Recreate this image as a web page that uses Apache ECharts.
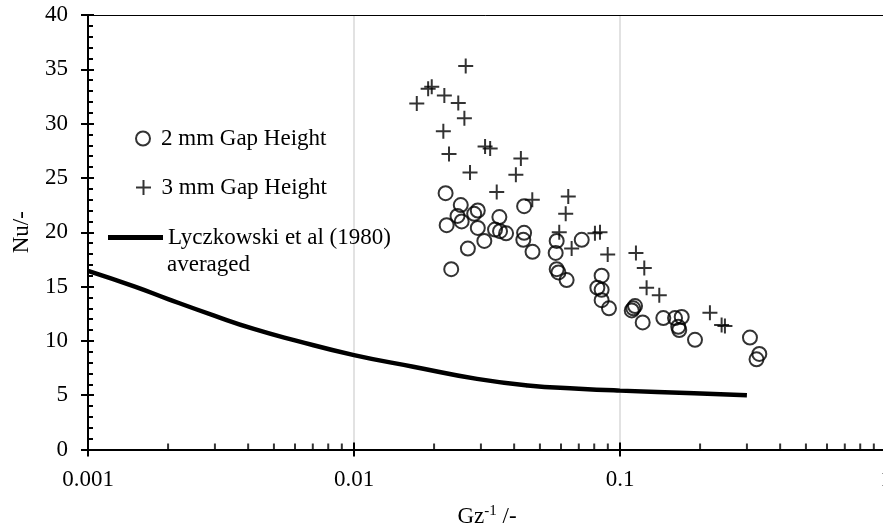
<!DOCTYPE html>
<html>
<head>
<meta charset="utf-8">
<script src="https://cdn.jsdelivr.net/npm/echarts@6/dist/echarts.min.js"></script>
<style>html,body{margin:0;padding:0;background:#fff}#c{width:883px;height:526px}</style>
</head>
<body>
<div id="c"></div>
<script>
// ---- data ----
var xTickLabels = ['0.001', '0.01', '0.1', '1'];
var xMinorTicks = [0.002,0.003,0.004,0.005,0.006,0.007,0.008,0.009,
                   0.02,0.03,0.04,0.05,0.06,0.07,0.08,0.09,
                   0.2,0.3,0.4,0.5,0.6,0.7,0.8,0.9];
var gap2mm = [[0.0221,23.6],[0.0252,22.5],[0.0292,22.0],[0.0436,22.4],[0.0283,21.7],[0.0245,21.5],
  [0.0254,21.0],[0.0352,21.4],[0.0223,20.65],[0.0292,20.4],[0.0339,20.25],[0.0354,20.1],[0.0373,19.9],
  [0.0436,19.95],[0.0433,19.3],[0.0309,19.2],[0.0469,18.2],[0.0268,18.5],[0.0232,16.6],[0.0578,19.2],
  [0.0573,18.1],[0.0578,16.6],[0.0587,16.3],[0.0630,15.6],[0.0718,19.3],[0.0853,16.0],[0.0822,14.9],
  [0.0853,14.7],[0.0853,13.75],[0.0909,13.0],[0.1107,12.8],[0.1139,13.2],[0.1122,13.0],[0.1217,11.7],
  [0.1455,12.1],[0.161,12.1],[0.1706,12.2],[0.1656,11.3],[0.167,11.0],[0.1914,10.1],[0.308,10.3],
  [0.334,8.8],[0.326,8.3]];
var gap3mm = [[0.0263,35.3],[0.0190,33.2],[0.0196,33.4],[0.01722,31.85],[0.02186,32.6],[0.02466,31.9],
  [0.0260,30.5],[0.02167,29.3],[0.02276,27.2],[0.0311,27.9],[0.0325,27.7],[0.0424,26.8],[0.0273,25.5],
  [0.0406,25.3],[0.0344,23.7],[0.0468,23.0],[0.0639,23.3],[0.0625,21.7],[0.0591,20.0],[0.0658,18.5],
  [0.0805,19.9],[0.0841,20.0],[0.0899,17.96],[0.1148,18.1],[0.1234,16.7],[0.1259,14.9],[0.1405,14.2],
  [0.2178,12.6],[0.241,11.45],[0.248,11.36]];
var lyczX = [0.001,0.0015,0.002,0.003,0.0042,0.006,0.01,0.0167,0.029,0.045,0.07,0.1,0.19,0.3];
var lyczY = [16.45,15.0,13.85,12.3,11.1,10.05,8.69,7.62,6.5,5.9,5.6,5.42,5.17,5.0];

var S2 = '2 mm Gap Height', S3 = '3 mm Gap Height', SL = 'Lyczkowski et al (1980)';
var FONT = 'Liberation Serif';
var plusPath = 'path://M0,10L20,10M10,0L10,20';

var chart = echarts.init(document.getElementById('c'));
var txt = {fontFamily: FONT, fontSize: 23, color: '#000'};
var logBase = {type: 'log', logBase: 10, min: 0.001, max: 1, gridIndex: 0};

chart.setOption({
  animation: false,
  backgroundColor: '#fff',
  grid: {left: 88, right: -3, top: 15, bottom: 76.5, containLabel: false, outerBoundsMode: 'none'},
  xAxis: [
    Object.assign({}, logBase, {
      position: 'bottom',
      axisLine: {show: true, onZero: false, lineStyle: {color: '#000', width: 2}},
      axisTick: {show: true, inside: true, length: 7, lineStyle: {color: '#000', width: 2}},
      axisLabel: Object.assign({margin: 19, formatter: function (v, i) { return xTickLabels[i]; }}, txt),
      splitLine: {show: true, lineStyle: {color: '#d9d9d9', width: 1.5}},
      name: '{a|Gz}{s|-1}{a| /-}',
      nameLocation: 'middle',
      nameGap: 54,
      nameTextStyle: {rich: {
        a: {fontFamily: FONT, fontSize: 23, color: '#000', lineHeight: 26},
        s: {fontFamily: FONT, fontSize: 15, color: '#000', verticalAlign: 'top', lineHeight: 18}
      }}
    }),
    Object.assign({}, logBase, {
      position: 'bottom',
      axisLine: {show: false, onZero: false},
      axisTick: {show: true, inside: false, length: 7, lineStyle: {color: '#000', width: 2}},
      axisLabel: {show: false},
      splitLine: {show: false}
    }),
    Object.assign({}, logBase, {
      position: 'top',
      axisLine: {show: true, onZero: false, lineStyle: {color: '#000', width: 1}},
      axisTick: {show: false},
      axisLabel: {show: false},
      splitLine: {show: false}
    })
  ],
  yAxis: [
    {
      type: 'value', min: 0, max: 40, interval: 5, position: 'left',
      axisLine: {show: true, onZero: false, lineStyle: {color: '#000', width: 2}},
      axisTick: {show: true, inside: true, length: 6, lineStyle: {color: '#000', width: 2}},
      minorTick: {show: true, splitNumber: 5, length: 5, lineStyle: {color: '#000', width: 2}},
      axisLabel: Object.assign({margin: 20}, txt),
      splitLine: {show: false},
      name: 'Nu/-', nameLocation: 'middle', nameGap: 55, nameRotate: 90,
      nameTextStyle: txt
    },
    {
      type: 'value', min: 0, max: 40, interval: 5, position: 'left',
      axisLine: {show: false, onZero: false},
      axisTick: {show: true, inside: false, length: 7, lineStyle: {color: '#000', width: 2}},
      axisLabel: {show: false},
      splitLine: {show: false}
    }
  ],
  legend: [
    {data: [S2], left: 135, top: 127, padding: 0, itemWidth: 26, itemHeight: 14, textStyle: txt, selectedMode: false},
    {data: [S3], left: 135, top: 176, padding: 0, itemWidth: 26, itemHeight: 15, textStyle: txt, selectedMode: false},
    {data: [{name: SL, icon: 'rect'}], left: 108, top: 226, padding: 0, itemWidth: 55, itemHeight: 5, textStyle: txt, selectedMode: false}
  ],
  graphic: [
    {type: 'text', left: 167, top: 253, style: {text: 'averaged', font: '23px "Liberation Serif"', fill: '#000'}}
  ],
  series: [
    {
      name: 'minorTicksX', type: 'scatter', xAxisIndex: 0, yAxisIndex: 0,
      data: xMinorTicks.map(function (v) { return [v, 0]; }),
      symbol: 'rect', symbolSize: [2, 6], symbolOffset: [0, '-50%'],
      itemStyle: {color: '#000'}, silent: true, clip: false, z: 5
    },
    {
      name: SL, type: 'line', xAxisIndex: 0, yAxisIndex: 0,
      data: lyczX.map(function (x, i) { return [x, lyczY[i]]; }),
      symbol: 'none', smooth: 0.5,
      lineStyle: {color: '#000', width: 4.5}, itemStyle: {color: '#000'}, z: 2
    },
    {
      name: S2, type: 'scatter', xAxisIndex: 0, yAxisIndex: 0, data: gap2mm,
      symbol: 'circle', symbolSize: 14,
      itemStyle: {color: 'rgba(0,0,0,0)', borderColor: '#000', borderWidth: 2}, z: 3
    },
    {
      name: S3, type: 'scatter', xAxisIndex: 0, yAxisIndex: 0, data: gap3mm,
      symbol: plusPath, symbolSize: 15,
      itemStyle: {color: 'rgba(0,0,0,0)', borderColor: '#000', borderWidth: 2}, z: 3
    }
  ]
});
</script>
</body>
</html>
